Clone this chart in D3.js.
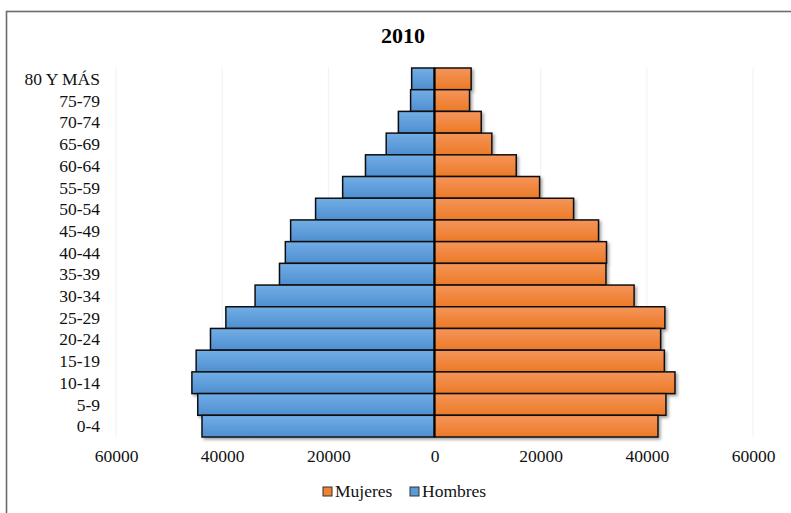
<!DOCTYPE html>
<html><head><meta charset="utf-8">
<script src="https://cdn.jsdelivr.net/npm/d3@7"></script>
<style>body{margin:0;background:#fff}svg{display:block}</style>
</head><body>
<script>
const categories = ["80 Y MÁS","75-79","70-74","65-69","60-64","55-59","50-54","45-49","40-44","35-39","30-34","25-29","20-24","15-19","10-14","5-9","0-4"];
const hombres = [4300,4500,6800,9100,13000,17300,22400,27100,28100,29200,33800,39300,42200,44900,45700,44600,43800];
const mujeres = [6900,6600,8800,10800,15400,19800,26200,30900,32400,32300,37600,43400,42600,43300,45300,43600,42100];
const xTicks = [-60000,-40000,-20000,0,20000,40000,60000];
const title = "2010";
const seriesNames = ["Mujeres","Hombres"];

const W=791,H=513;
const svg=d3.select("body").append("svg").attr("width",W).attr("height",H);
const defs=svg.append("defs");
function grad(id,c1,c2){const g=defs.append("linearGradient").attr("id",id).attr("x1",0).attr("y1",0).attr("x2",0).attr("y2",1);
g.append("stop").attr("offset","0%").attr("stop-color",c1);g.append("stop").attr("offset","100%").attr("stop-color",c2);}
grad("gB","#72aee6","#4f8fd0");
grad("gO","#f5955a","#ec7a26");
const f=defs.append("filter").attr("id","sh").attr("x","-10%").attr("y","-30%").attr("width","130%").attr("height","180%");
f.append("feDropShadow").attr("dx",2).attr("dy",2).attr("stdDeviation",1.5).attr("flood-color","#000").attr("flood-opacity",0.35);

// frame
svg.append("rect").attr("x",6.5).attr("y",11.5).attr("width",W+20).attr("height",H+20).attr("fill","none").attr("stroke","#6b6b6b").attr("stroke-width",1.6);

const x=d3.scaleLinear().domain([-60000,60000]).range([116,753]);
const y=d3.scaleBand().domain(categories).range([68,437]).padding(0);

// gridlines
svg.append("g").selectAll("line").data(xTicks).join("line")
 .attr("x1",d=>x(d)).attr("x2",d=>x(d)).attr("y1",68).attr("y2",437)
 .attr("stroke","#f0f0f0").attr("stroke-width",1);

const font="'Liberation Serif','Times New Roman',serif";
svg.append("text").attr("x",403).attr("y",43).attr("text-anchor","middle")
 .attr("font-family",font).attr("font-weight","bold").attr("font-size",22).text(title);

const bars=svg.append("g").attr("filter","url(#sh)");
bars.selectAll("rect.h").data(categories).join("rect").attr("class","h")
 .attr("x",(d,i)=>x(-hombres[i])).attr("y",d=>y(d))
 .attr("width",(d,i)=>x(0)-x(-hombres[i])).attr("height",y.bandwidth())
 .attr("fill","url(#gB)").attr("stroke","#111").attr("stroke-width",1.5);
bars.selectAll("rect.m").data(categories).join("rect").attr("class","m")
 .attr("x",x(0)).attr("y",d=>y(d))
 .attr("width",(d,i)=>x(mujeres[i])-x(0)).attr("height",y.bandwidth())
 .attr("fill","url(#gO)").attr("stroke","#111").attr("stroke-width",1.5);

svg.append("line").attr("x1",x(0)).attr("x2",x(0)).attr("y1",68).attr("y2",437).attr("stroke","#000").attr("stroke-width",2);

// y axis labels
const ya=svg.append("g").attr("transform","translate(100,0)").call(d3.axisLeft(y).tickSize(0).tickPadding(0));
ya.attr("font-family",font).attr("font-size",17.5);
ya.select(".domain").remove();
ya.selectAll("text").attr("fill","#111").attr("dy","0.35em");

// x axis
const xa=svg.append("g").attr("transform","translate(0,450)").call(d3.axisBottom(x).tickValues(xTicks).tickSize(0).tickPadding(0).tickFormat(d=>String(Math.abs(d))));
xa.attr("font-family",font).attr("font-size",17.5);
xa.select(".domain").remove();
xa.selectAll("text").attr("fill","#111").attr("dy","0.71em");

// legend
const legend=[{n:seriesNames[0],c:"#ee8236",x:323},{n:seriesNames[1],c:"#5b9bd5",x:410}];
const lg=svg.append("g").attr("font-family",font).attr("font-size",17.5);
legend.forEach(l=>{
 lg.append("rect").attr("x",l.x).attr("y",487).attr("width",9).attr("height",9).attr("fill",l.c).attr("stroke","#333").attr("stroke-width",1);
 lg.append("text").attr("x",l.x+12).attr("y",497).attr("fill","#111").text(l.n);
});
</script>
</body></html>
